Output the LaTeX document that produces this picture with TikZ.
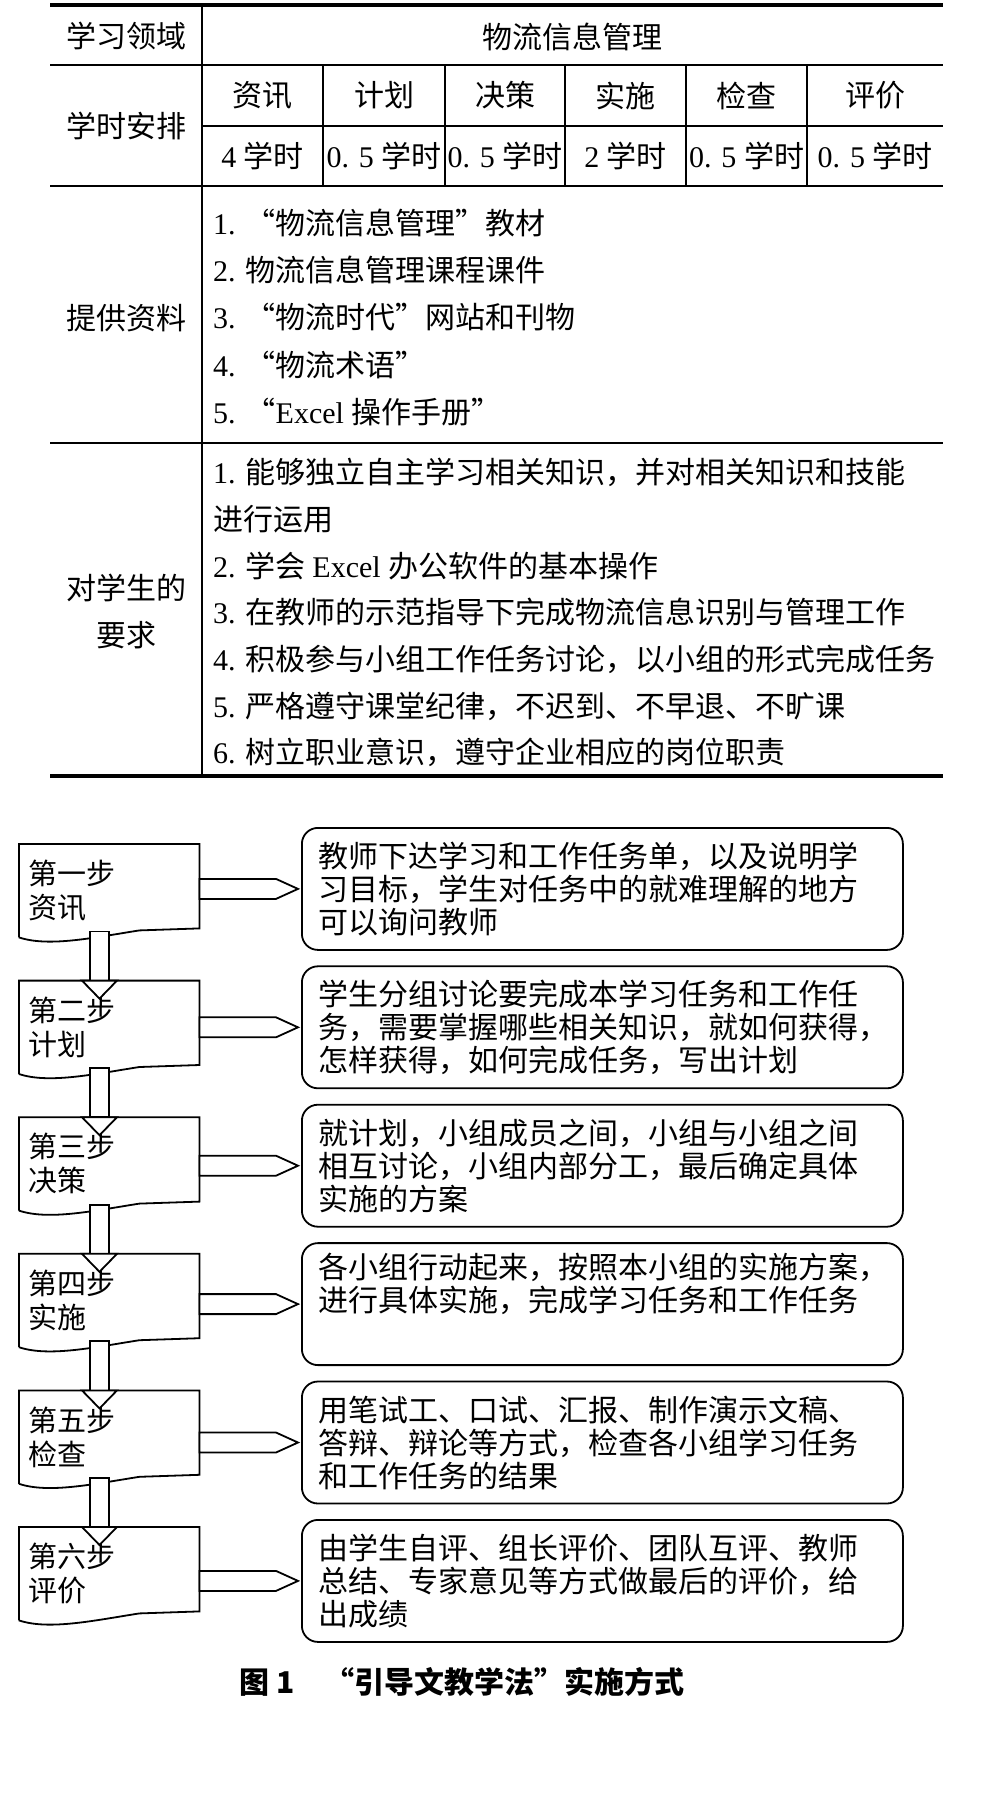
\documentclass[tikz,border=0pt]{standalone}
\usepackage{fontspec}
\setmainfont{Liberation Serif}
\newfontfamily\cjk{Noto Sans CJK SC}
\usetikzlibrary{positioning, calc}
\newcommand\wen[1]{{\rmfamily #1}}

\begin{document}
\begin{tikzpicture}[x=1pt, y=1pt,
    rule/.style={line width=1.2pt},
    thickrule/.style={line width=4pt},
    cell/.style={font=\cjk\fontsize{30}{47}\selectfont, inner sep=0pt, align=center},
    item/.style={font=\cjk\fontsize{30}{36}\selectfont, inner sep=0pt, anchor=west},
    stepbox/.style={anchor=north west, minimum width=180pt, minimum height=93pt,
                    inner xsep=9pt, inner ysep=0pt, text width=162pt, align=left,
                    font=\cjk\fontsize{29}{34}\selectfont},
    taskbox/.style={draw, line width=1.8pt, rounded corners=16pt, minimum width=601pt,
                    minimum height=122pt, inner xsep=17pt, text width=567pt, align=left,
                    font=\cjk\fontsize{30}{33}\selectfont},
    outline/.style={line width=1.8pt},
    blockarrow/.style={draw, fill=white, line width=1.8pt},
    caption/.style={font=\cjk\bfseries\fontsize{30}{34}\selectfont, inner sep=0pt}
]
    \useasboundingbox (0,0) rectangle (982,-1804);

    % Table rules
    \draw[thickrule] (50,-5) -- (943,-5);
    \draw[rule] (50,-65) -- (943,-65);
    \draw[rule] (202,-126) -- (943,-126);
    \draw[rule] (50,-186) -- (943,-186);
    \draw[rule] (50,-443) -- (943,-443);
    \draw[thickrule] (50,-776) -- (943,-776);
    \draw[rule] (202,-7) -- (202,-774);
    \foreach \x in {323,445,565,686,807} {
        \draw[rule] (\x,-65) -- (\x,-186);
    }

    % Table header rows
    \node[cell] (area) at (126,-36.5) {学习领域};
    \node[cell] (course) at (572.5,-36.5) {物流信息管理};
    \node[cell] (hours) at (126,-125.5) {学时安排};
    \foreach \x/\p/\h [count=\k] in {262.5/资讯/\wen{4 }学时, 384/计划/\wen{0. 5 }学时,
            505/决策/\wen{0. 5 }学时, 625.5/实施/\wen{2 }学时,
            746.5/检查/\wen{0. 5 }学时, 875/评价/\wen{0. 5 }学时} {
        \node[cell] (phase\k) at (\x,-95.5) {\p};
        \node[cell] (time\k) at (\x,-156) {\h};
    }

    % Materials
    \node[cell] (material) at (126,-318) {提供资料};
    \foreach \t [count=\k] in {{\wen{1. }“物流信息管理”教材},
            {\wen{2. }物流信息管理课程课件},
            {\wen{3. }“物流时代”网站和刊物},
            {\wen{4. }“物流术语”},
            {\wen{5. }“\wen{Excel }操作手册”}} {
        \node[item] (mat\k) at (213,{-223-47.25*(\k-1)}) {\t};
    }

    % Requirements
    \node[cell] (demand) at (126,-611.5) {对学生的\\要求};
    \foreach \t [count=\k] in {{\wen{1. }能够独立自主学习相关知识，并对相关知识和技能},
            {进行运用},
            {\wen{2. }学会 \wen{Excel }办公软件的基本操作},
            {\wen{3. }在教师的示范指导下完成物流信息识别与管理工作},
            {\wen{4. }积极参与小组工作任务讨论，以小组的形式完成任务},
            {\wen{5. }严格遵守课堂纪律，不迟到、不早退、不旷课},
            {\wen{6. }树立职业意识，遵守企业相应的岗位职责}} {
        \node[item] (req\k) at (213,{-472-46.8*(\k-1)}) {\t};
    }

    % Steps
    \foreach \stp/\ph [count=\k] in {第一步/资讯, 第二步/计划, 第三步/决策,
            第四步/实施, 第五步/检查, 第六步/评价} {
        \node[stepbox] (s\k) at (19,{-844-136.6*(\k-1)}) {\stp\\\ph};
        \draw[outline] (s\k.south west) -- (s\k.north west) -- (s\k.north east)
            -- ([yshift=9pt]s\k.south east) -- ++(-60,-2)
            .. controls +(-45,-7) and +(30,-10) .. (s\k.south west);
    }

    % Tasks
    \node[taskbox, anchor=north west] (t1) at (301,-827)
        {教师下达学习和工作任务单，以及说明学\\习目标，学生对任务中的就难理解的地方\\可以询问教师};
    \node[taskbox, below=14.6pt of t1] (t2)
        {学生分组讨论要完成本学习任务和工作任\\务，需要掌握哪些相关知识，就如何获得，\\怎样获得，如何完成任务，写出计划};
    \node[taskbox, below=14.6pt of t2] (t3)
        {就计划，小组成员之间，小组与小组之间\\相互讨论，小组内部分工，最后确定具体\\实施的方案};
    \node[taskbox, below=14.6pt of t3] (t4)
        {各小组行动起来，按照本小组的实施方案，\\进行具体实施，完成学习任务和工作任务\\\strut};
    \node[taskbox, below=14.6pt of t4] (t5)
        {用笔试工、口试、汇报、制作演示文稿、\\答辩、辩论等方式，检查各小组学习任务\\和工作任务的结果};
    \node[taskbox, below=14.6pt of t5] (t6)
        {由学生自评、组长评价、团队互评、教师\\总结、专家意见等方式做最后的评价，给\\出成绩};

    % Arrows step -> task
    \foreach \k in {1,...,6} {
        \draw[blockarrow] ($(s\k.east |- t\k.west)+(0,10)$) -- ($(t\k.west)+(-25,10)$)
            -- ($(t\k.west)+(-3,0)$) -- ($(t\k.west)+(-25,-10)$)
            -- ($(s\k.east |- t\k.west)+(0,-10)$) -- cycle;
    }

    % Arrows step -> next step
    \foreach \k [evaluate=\k as \n using int(\k+1)] in {1,...,5} {
        \draw[blockarrow] ($(s\k.south west)+(71,6)$) rectangle ($(s\n.north west)+(90,0)$);
        \draw[blockarrow] ($(s\n.north west)+(63,0)$) -- ($(s\n.north west)+(98,0)$)
            -- ($(s\n.north west)+(80.5,-18)$) -- cycle;
    }

    \node[caption] (fig) at (462,-1682) {图 1\quad “引导文教学法”实施方式};
\end{tikzpicture}
\end{document}
